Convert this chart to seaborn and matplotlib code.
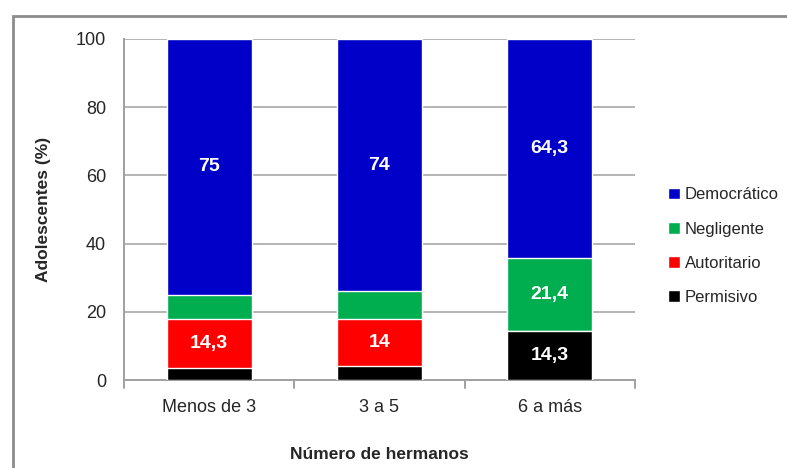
import pandas as pd
import matplotlib
matplotlib.use("Agg")
import matplotlib.pyplot as plt
import seaborn as sns
from matplotlib.patches import Rectangle, Patch

# Datos (porcentaje de adolescentes por estilo y número de hermanos)
categorias = ["Menos de 3", "3 a 5", "6 a más"]
permisivo = [3.6, 4.0, 14.3]
autoritario = [14.3, 14.0, 0.0]
negligente = [7.1, 8.0, 21.4]
democratico = [75.0, 74.0, 64.3]

estilos = ["Permisivo", "Autoritario", "Negligente", "Democrático"]
colores = {"Permisivo": "#000000", "Autoritario": "#ff0000",
           "Negligente": "#00ad4f", "Democrático": "#0000c8"}
# etiquetas visibles en el gráfico original
etiquetas = {
    "Permisivo": [False, False, True],
    "Autoritario": [True, True, False],
    "Negligente": [False, False, True],
    "Democrático": [True, True, True],
}

df = pd.DataFrame({"Hermanos": categorias, "Permisivo": permisivo,
                   "Autoritario": autoritario, "Negligente": negligente,
                   "Democrático": democratico})
acum = df[estilos].cumsum(axis=1)
acum["Hermanos"] = df["Hermanos"]

sns.set_style("white")
plt.rcParams["font.family"] = ["Liberation Sans", "DejaVu Sans"]

fig = plt.figure(figsize=(7.87, 4.68), dpi=100)
ax = fig.add_axes([0.1576, 0.188, 0.649, 0.7287])

# barras apiladas: se dibuja del acumulado mayor al menor
for est in estilos[::-1]:
    sns.barplot(data=acum, x="Hermanos", y=est, color=colores[est],
                width=0.5, saturation=1, ax=ax, zorder=3)

ax.set_ylim(0, 100)
ax.set_xlim(-0.5, 2.5)
ax.set_yticks(range(0, 101, 20))
ax.yaxis.grid(True, color="#b4b4b4", linewidth=1.4, zorder=0)
ax.set_axisbelow(True)
for s in ["top", "right"]:
    ax.spines[s].set_visible(False)
for s in ["left", "bottom"]:
    ax.spines[s].set_color("#a0a0a0")
    ax.spines[s].set_linewidth(1.4)
ax.tick_params(axis="y", length=7, color="#b4b4b4", width=1.4, labelsize=13, pad=6)
ax.tick_params(axis="x", length=0, labelsize=13, pad=14)
# marcas del eje x entre categorías
for xb in [-0.5, 0.5, 1.5, 2.5]:
    ax.plot([xb, xb], [0, -2.2], color="#a0a0a0", lw=1.4, clip_on=False)

ax.set_xlabel("Número de hermanos", fontsize=12.5, fontweight="bold", labelpad=22)
ax.set_ylabel("Adolescentes (%)", fontsize=12.5, fontweight="bold", labelpad=18)

# etiquetas de valores
for i in range(len(categorias)):
    base = 0
    for est in estilos:
        v = df.loc[i, est]
        if etiquetas[est][i]:
            txt = f"{v:g}".replace(".", ",")
            ax.text(i, base + v / 2, txt, ha="center", va="center",
                    color="white", fontsize=14, fontweight="bold", zorder=5)
        base += v

handles = [Patch(facecolor=colores[e], label=e) for e in estilos[::-1]]
leg = fig.legend(handles=handles, loc="center left", bbox_to_anchor=(0.849, 0.474),
                 frameon=False, fontsize=12, handlelength=0.7, handleheight=0.7,
                 handletextpad=0.3, labelspacing=1.15, borderpad=0, borderaxespad=0)

# marco gris del gráfico
fig.patches.append(Rectangle((13 / 787, -0.05), 1.0, 1 - 15.5 / 468 + 0.05,
                             transform=fig.transFigure, fill=False,
                             edgecolor="#8c8c8c", linewidth=2))

fig.savefig("out.png", dpi=100)
